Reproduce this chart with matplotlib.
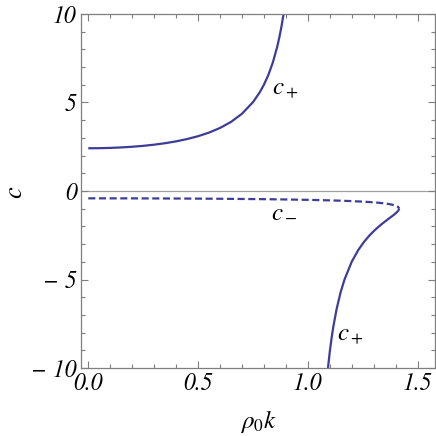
import matplotlib
matplotlib.use('Agg')
import matplotlib.pyplot as plt
from matplotlib.ticker import MultipleLocator

# c+ upper branch
k_up = [0.0, 0.05, 0.1, 0.15, 0.2, 0.25, 0.3, 0.35, 0.4, 0.45, 0.5, 0.55, 0.6, 0.65,
        0.7, 0.75, 0.78, 0.8, 0.82, 0.84, 0.86, 0.87, 0.88, 0.889]
c_up = [2.414, 2.419, 2.435, 2.462, 2.5, 2.551, 2.618, 2.701, 2.805, 2.935, 3.097, 3.302,
        3.564, 3.906, 4.370, 5.026, 5.566, 6.017, 6.570, 7.261, 8.152, 8.700, 9.340, 10.015]

# c+ lower branch
k_low = [1.0909, 1.09905, 1.10707, 1.11494, 1.13027, 1.14864, 1.16619, 1.19896, 1.22882,
         1.25599, 1.28062, 1.30288, 1.32288, 1.34071, 1.35647, 1.37022, 1.38203, 1.39194,
         1.4, 1.40624, 1.41067, 1.41333, 1.41421]
c_low = [-10.0, -9.091, -8.333, -7.692, -6.667, -5.714, -5.0, -4.0, -3.333,
         -2.857, -2.5, -2.222, -2.0, -1.818, -1.667, -1.538, -1.4286, -1.333,
         -1.25, -1.176, -1.111, -1.0526, -1.0]

# c- branch (dashed)
k_minus = [0.0, 0.2, 0.4, 0.6, 0.8, 0.9, 1.0, 1.1, 1.15, 1.2, 1.25599, 1.28062, 1.3,
           1.32288, 1.35647, 1.38203, 1.39194, 1.4, 1.40624, 1.41067, 1.41333, 1.41421]
c_minus = [-0.4142, -0.4167, -0.4244, -0.4385, -0.4616, -0.4783, -0.5, -0.5294, -0.5486,
           -0.5720, -0.6061, -0.625, -0.6424, -0.6667, -0.7143, -0.7692, -0.8, -0.8333,
           -0.8696, -0.9091, -0.9524, -1.0]

x_ticks = [0.0, 0.5, 1.0, 1.5]
y_ticks = [-10, -5, 0, 5, 10]

line_col = '#3d3d99'
frame_col = '#7f7f7f'
plt.rcParams['mathtext.fontset'] = 'stix'
tick_font = dict(family='STIXGeneral', style='italic', size=17)

fig = plt.figure(figsize=(4.36, 4.36), dpi=100, facecolor='white')
ax = fig.add_axes([81/436, 68/436, 354/436, 354/436])

ax.axhline(0, color='#a0a0a0', lw=0.9, zorder=1)
ax.plot(k_up, c_up, color=line_col, lw=1.6, solid_capstyle='butt')
ax.plot(k_low, c_low, color=line_col, lw=1.6, solid_capstyle='butt')
ax.plot(k_minus, c_minus, color=line_col, lw=1.6, dashes=(3.2, 1.6))

ax.set_xlim(-0.033, 1.578)
ax.set_ylim(-10, 10)

ax.set_xticks(x_ticks)
ax.set_xticklabels(['%.1f' % v for v in x_ticks], fontdict=tick_font)
ax.set_yticks(y_ticks)
ax.set_yticklabels([('\u2212 ' + str(-v)) if v < 0 else str(v) for v in y_ticks], fontdict=tick_font)
ax.xaxis.set_minor_locator(MultipleLocator(0.1))
ax.yaxis.set_minor_locator(MultipleLocator(1))
ax.tick_params(which='both', direction='in', top=True, right=True, color=frame_col, width=0.8)
ax.tick_params(which='major', length=5)
ax.tick_params(which='minor', length=3)
ax.tick_params(axis='x', which='major', pad=3)
ax.tick_params(axis='y', which='major', pad=3)
for sp in ax.spines.values():
    sp.set_color(frame_col)
    sp.set_linewidth(0.9)

# curve labels
ax.text(0.895, 5.8, r'$c_+$', fontsize=18, ha='center', va='center')
ax.text(0.89, -1.07, r'$c_-$', fontsize=18, ha='center', va='center')
ax.text(1.195, -8.1, r'$c_+$', fontsize=18, ha='center', va='center')

fig.text(15/436, 1 - 192/436, r'$c$', fontsize=19, rotation=90, ha='center', va='center')
fig.text(258/436, 1 - 421/436, r'$\rho_0 k$', fontsize=18, ha='center', va='center')

fig.savefig('out.png', dpi=100)
